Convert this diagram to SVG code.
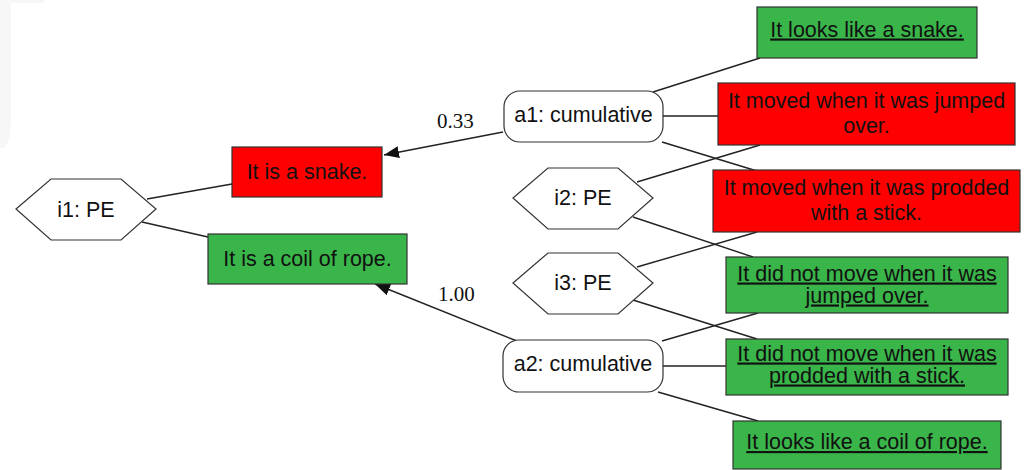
<svg xmlns="http://www.w3.org/2000/svg" width="1025" height="470" viewBox="0 0 1025 470">
<style>
.t{font-family:"Liberation Sans",Arial,sans-serif;font-size:21.5px;fill:#111;text-anchor:middle}
.u{text-decoration:underline}
.lbl{font-family:"Liberation Serif","Times New Roman",serif;font-size:21px;fill:#111}
.red{fill:#ff0000;stroke:#333;stroke-width:1.2}
.green{fill:#3ab54a;stroke:#333;stroke-width:1.2}
.white{fill:#fff;stroke:#333;stroke-width:1.2}
.e{stroke:#222;stroke-width:1.4;fill:none}
</style>
<defs>
<marker id="arr" markerUnits="userSpaceOnUse" markerWidth="16" markerHeight="12" refX="15" refY="6" orient="auto">
<path d="M0,0 L15,6 L0,12 Z" fill="#111"/>
</marker>
</defs>
<rect width="1025" height="470" fill="#fff"/>
<path d="M0,0 H44 V3 H11 V120 Q11,140 4,148 H0 Z" fill="#f7f7f7"/>
<g id="connectors">
<line class="e" x1="147" y1="199" x2="232" y2="184"/>
<line class="e" x1="142" y1="222" x2="208" y2="237"/>
<line class="e" x1="503" y1="132" x2="384" y2="155" marker-end="url(#arr)"/>
<line class="e" x1="517" y1="341" x2="375" y2="284" marker-end="url(#arr)"/>
<line class="e" x1="653" y1="92" x2="760" y2="58"/>
<line class="e" x1="663" y1="116" x2="718" y2="116"/>
<line class="e" x1="662" y1="142" x2="757" y2="171"/>
<line class="e" x1="637" y1="182" x2="760" y2="145"/>
<line class="e" x1="633" y1="217" x2="753" y2="257"/>
<line class="e" x1="637" y1="267" x2="757" y2="232"/>
<line class="e" x1="633" y1="300" x2="757" y2="339"/>
<line class="e" x1="662" y1="341" x2="758" y2="313"/>
<line class="e" x1="663" y1="366" x2="726" y2="366"/>
<line class="e" x1="658" y1="392" x2="758" y2="421"/>
<text class="lbl" x="437" y="128">0.33</text>
<text class="lbl" x="438" y="301">1.00</text>
</g>
<g id="i1">
<polygon class="white" points="16,209 51,179 121,179 156,209 121,240 51,240"/>
<text class="t" x="86" y="216.5">i1: PE</text>
</g>
<g id="snake">
<rect class="red" x="232" y="147" width="150" height="50"/>
<text class="t" x="307" y="179">It is a snake.</text>
</g>
<g id="rope">
<rect class="green" x="208" y="234" width="199" height="50"/>
<text class="t" x="307.5" y="266">It is a coil of rope.</text>
</g>
<g id="a1">
<rect class="white" x="504" y="91" width="159" height="51" rx="16"/>
<text class="t" x="583.5" y="122">a1: cumulative</text>
</g>
<g id="a2">
<rect class="white" x="503" y="340" width="160" height="52" rx="16"/>
<text class="t" x="583" y="371">a2: cumulative</text>
</g>
<g id="i2">
<polygon class="white" points="513,198 548,168 618,168 653,198 618,229 548,229"/>
<text class="t" x="583" y="205">i2: PE</text>
</g>
<g id="i3">
<polygon class="white" points="513,283 548,253 618,253 653,283 618,314 548,314"/>
<text class="t" x="583" y="290">i3: PE</text>
</g>
<g id="looksSnake">
<rect class="green" x="757" y="7" width="220" height="51"/>
<text class="t u" x="867" y="36.5">It looks like a snake.</text>
</g>
<g id="movedJumped">
<rect class="red" x="718" y="83" width="297" height="62"/>
<text class="t" x="866.5" y="108">It moved when it was jumped</text>
<text class="t" x="866.5" y="133">over.</text>
</g>
<g id="movedProdded">
<rect class="red" x="713" y="170" width="307" height="62"/>
<text class="t" x="866.5" y="195">It moved when it was prodded</text>
<text class="t" x="866.5" y="220">with a stick.</text>
</g>
<g id="notJumped">
<rect class="green" x="726" y="257" width="282" height="56"/>
<text class="t u" x="867" y="280.5">It did not move when it was</text>
<text class="t u" x="867" y="302.5">jumped over.</text>
</g>
<g id="notProdded">
<rect class="green" x="726" y="339" width="282" height="56"/>
<text class="t u" x="867" y="360.5">It did not move when it was</text>
<text class="t u" x="867" y="382.5">prodded with a stick.</text>
</g>
<g id="looksRope">
<rect class="green" x="733" y="421" width="268" height="48"/>
<text class="t u" x="867" y="449">It looks like a coil of rope.</text>
</g>
</svg>
